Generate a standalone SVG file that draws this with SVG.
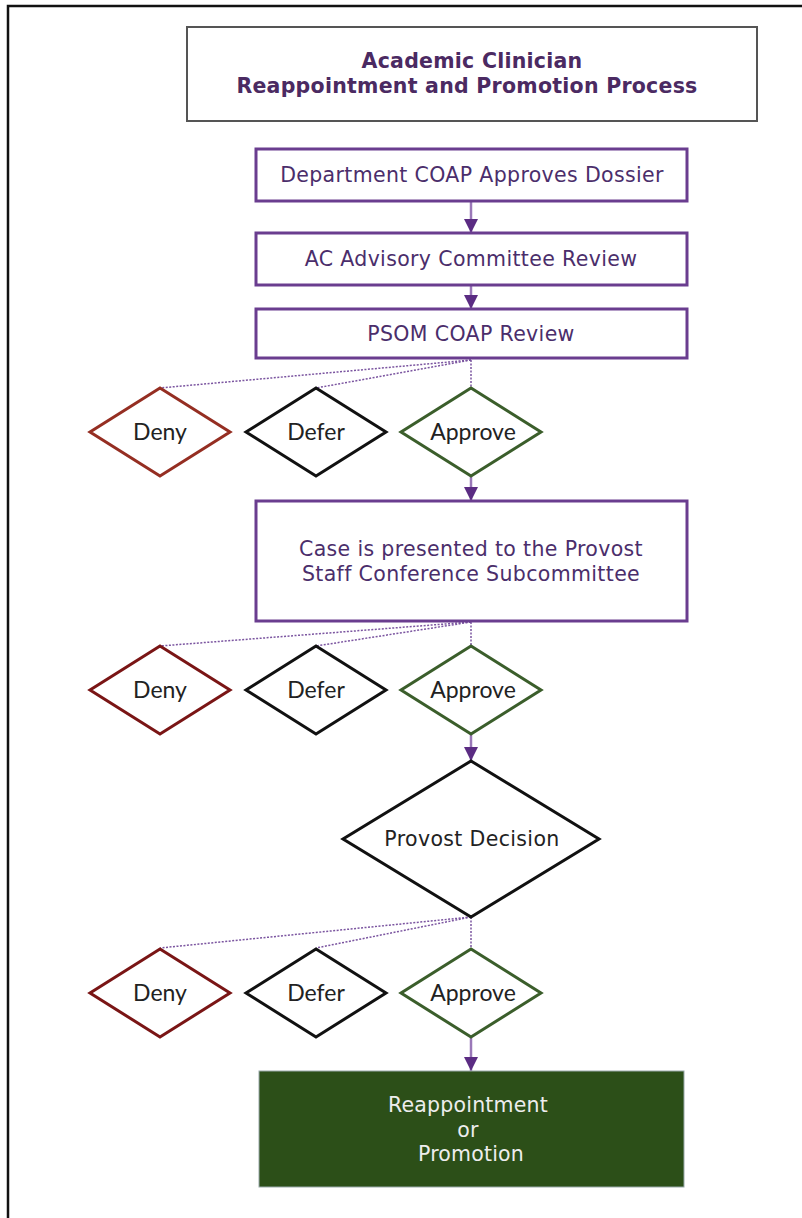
<svg xmlns="http://www.w3.org/2000/svg" width="802" height="1218" viewBox="0 0 802 1218">
<defs>
<marker id="arr" markerWidth="15" markerHeight="16" refX="15" refY="7.5" orient="auto" markerUnits="userSpaceOnUse" viewBox="0 0 16 15">
<path d="M0,0 L15,7.5 L0,15 Z" fill="#5B2C83"/>
</marker>
</defs>
<style>
.frame{stroke:#111;stroke-width:2.5;fill:none}
.title{fill:#fff;stroke:#555;stroke-width:2}
.ttl{font-family:"DejaVu Sans",Verdana,sans-serif;font-weight:bold;font-size:20.5px;letter-spacing:0.25px;fill:#4B2A62;text-anchor:middle}
.box{fill:#fff;stroke:#6A3D8F;stroke-width:3}
.bt{font-family:"DejaVu Sans",Verdana,sans-serif;font-size:20.5px;letter-spacing:0.35px;fill:#4B2E6B;text-anchor:middle}
.dt{font-family:Lato,"Open Sans",sans-serif;font-size:23px;fill:#222;text-anchor:middle}
.pd{font-family:"DejaVu Sans",Verdana,sans-serif;font-size:20.5px;letter-spacing:0.35px;fill:#222;text-anchor:middle}
.deny{fill:#fff;stroke:#952E22;stroke-width:3}
.deny2{fill:#fff;stroke:#7A1515;stroke-width:3}
.defer{fill:#fff;stroke:#111;stroke-width:3}
.appr{fill:#fff;stroke:#3B5E2B;stroke-width:3}
.flow{stroke:#9A78B8;stroke-width:2.5;fill:none;marker-end:url(#arr)}
.dot{stroke:#7B55A0;stroke-width:1.5;stroke-dasharray:2 1.5;fill:none}
.final{fill:#2C4F18;stroke:#9aa;stroke-width:1}
.ft{font-family:"DejaVu Sans",Verdana,sans-serif;font-size:20.5px;letter-spacing:0.2px;fill:#EDEDED;text-anchor:middle}
</style>
<rect width="802" height="1218" fill="#fff"/>
<path class="frame" d="M8,1218 V6 H802"/>

<g id="title">
<rect class="title" x="187" y="27" width="570" height="94"/>
<text class="ttl" x="472" y="68">Academic Clinician</text>
<text class="ttl" x="467" y="93">Reappointment and Promotion Process</text>
</g>

<g id="connectors">
<line class="flow" x1="471" y1="202" x2="471" y2="233"/>
<line class="flow" x1="471" y1="286" x2="471" y2="309"/>
<line class="dot" x1="471" y1="360" x2="160" y2="388"/>
<line class="dot" x1="471" y1="360" x2="316" y2="388"/>
<line class="dot" x1="471" y1="360" x2="471" y2="388"/>
<line class="flow" x1="471" y1="477" x2="471" y2="501"/>
<line class="dot" x1="471" y1="622" x2="160" y2="646"/>
<line class="dot" x1="471" y1="622" x2="316" y2="646"/>
<line class="dot" x1="471" y1="622" x2="471" y2="646"/>
<line class="flow" x1="471" y1="735" x2="471" y2="761"/>
<line class="dot" x1="471" y1="917" x2="160" y2="948"/>
<line class="dot" x1="471" y1="917" x2="316" y2="948"/>
<line class="dot" x1="471" y1="917" x2="471" y2="948"/>
<line class="flow" x1="471" y1="1038" x2="471" y2="1071"/>
</g>

<g id="n1">
<rect class="box" x="256" y="149" width="431" height="52"/>
<text class="bt" x="472" y="182">Department COAP Approves Dossier</text>
</g>
<g id="n2">
<rect class="box" x="256" y="233" width="431" height="52"/>
<text class="bt" x="471" y="266">AC Advisory Committee Review</text>
</g>
<g id="n3">
<rect class="box" x="256" y="309" width="431" height="49"/>
<text class="bt" x="471" y="341">PSOM COAP Review</text>
</g>

<g id="deny1"><polygon class="deny" points="160,388 230,432 160,476 90,432"/><text class="dt" x="160" y="440">Deny</text></g>
<g id="defer1"><polygon class="defer" points="316,388 386,432 316,476 246,432"/><text class="dt" x="316" y="440">Defer</text></g>
<g id="approve1"><polygon class="appr" points="471,388 541,432 471,476 401,432"/><text class="dt" x="473" y="440">Approve</text></g>

<g id="n4">
<rect class="box" x="256" y="501" width="431" height="120"/>
<text class="bt" x="471" y="556">Case is presented to the Provost</text>
<text class="bt" x="471" y="581">Staff Conference Subcommittee</text>
</g>

<g id="deny2"><polygon class="deny2" points="160,646 230,690 160,734 90,690"/><text class="dt" x="160" y="698">Deny</text></g>
<g id="defer2"><polygon class="defer" points="316,646 386,690 316,734 246,690"/><text class="dt" x="316" y="698">Defer</text></g>
<g id="approve2"><polygon class="appr" points="471,646 541,690 471,734 401,690"/><text class="dt" x="473" y="698">Approve</text></g>

<g id="provost">
<polygon class="defer" points="471,761 599,839 471,917 343,839"/>
<text class="pd" x="472" y="846">Provost Decision</text>
</g>

<g id="deny3"><polygon class="deny2" points="160,949 230,993 160,1037 90,993"/><text class="dt" x="160" y="1001">Deny</text></g>
<g id="defer3"><polygon class="defer" points="316,949 386,993 316,1037 246,993"/><text class="dt" x="316" y="1001">Defer</text></g>
<g id="approve3"><polygon class="appr" points="471,949 541,993 471,1037 401,993"/><text class="dt" x="473" y="1001">Approve</text></g>

<g id="final">
<rect class="final" x="259" y="1071" width="425" height="116"/>
<text class="ft" x="468" y="1112">Reappointment</text>
<text class="ft" x="468" y="1137">or</text>
<text class="ft" x="471" y="1161">Promotion</text>
</g>
</svg>
